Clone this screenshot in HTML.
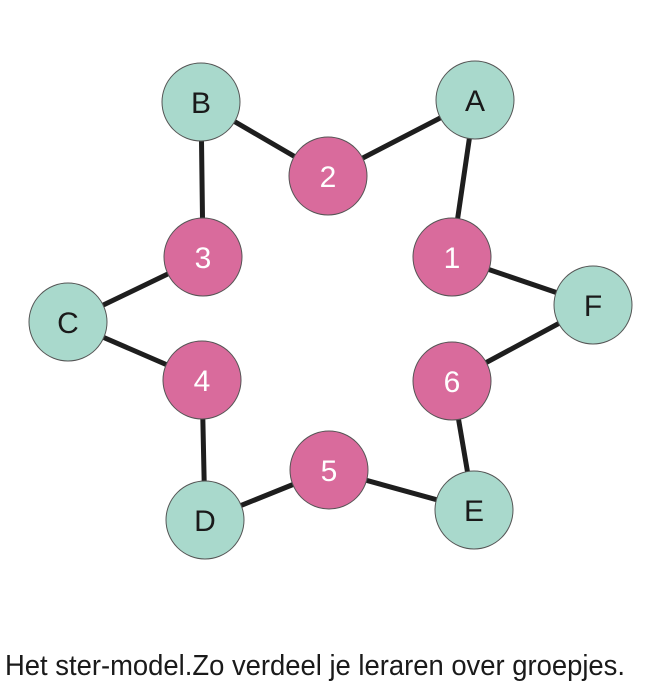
<!DOCTYPE html>
<html><head><meta charset="utf-8"><style>html,body{margin:0;padding:0;background:#fff}</style></head>
<body>
<svg width="658" height="681" viewBox="0 0 658 681" xmlns="http://www.w3.org/2000/svg">
<g stroke="#1e1e1e" stroke-width="5" stroke-linecap="round">
<line x1="201" y1="102" x2="328" y2="176"/>
<line x1="328" y1="176" x2="475" y2="100"/>
<line x1="475" y1="100" x2="452" y2="257"/>
<line x1="452" y1="257" x2="593" y2="305"/>
<line x1="593" y1="305" x2="452" y2="381"/>
<line x1="452" y1="381" x2="474" y2="510"/>
<line x1="474" y1="510" x2="329" y2="470"/>
<line x1="329" y1="470" x2="205" y2="520"/>
<line x1="205" y1="520" x2="202" y2="380"/>
<line x1="202" y1="380" x2="68" y2="322"/>
<line x1="68" y1="322" x2="203" y2="257"/>
<line x1="203" y1="257" x2="201" y2="102"/>
</g>
<g stroke="#555" stroke-width="1">
<g fill="#a9d9cc">
<circle cx="201" cy="102" r="39"/>
<circle cx="475" cy="100" r="39"/>
<circle cx="593" cy="305" r="39"/>
<circle cx="474" cy="510" r="39"/>
<circle cx="205" cy="520" r="39"/>
<circle cx="68" cy="322" r="39"/>
</g>
<g fill="#d96b9c">
<circle cx="328" cy="176" r="39"/>
<circle cx="452" cy="257" r="39"/>
<circle cx="452" cy="381" r="39"/>
<circle cx="329" cy="470" r="39"/>
<circle cx="202" cy="380" r="39"/>
<circle cx="203" cy="257" r="39"/>
</g>
</g>
<g font-family="Liberation Sans, sans-serif" font-size="30" text-anchor="middle">
<g fill="#1a1a1a">
<text x="201" y="113">B</text>
<text x="475" y="111">A</text>
<text x="593" y="316">F</text>
<text x="474" y="521">E</text>
<text x="205" y="531">D</text>
<text x="68" y="333">C</text>
</g>
<g fill="#fff">
<text x="328" y="187">2</text>
<text x="452" y="268">1</text>
<text x="452" y="392">6</text>
<text x="329" y="481">5</text>
<text x="202" y="391">4</text>
<text x="203" y="268">3</text>
</g>
</g>
<text x="5" y="675" font-family="Liberation Sans Narrow, Liberation Sans, sans-serif" font-size="29" fill="#1a1a1a" textLength="620" lengthAdjust="spacingAndGlyphs">Het ster-model.Zo verdeel je leraren  over groepjes.</text>
</svg>
</body></html>
